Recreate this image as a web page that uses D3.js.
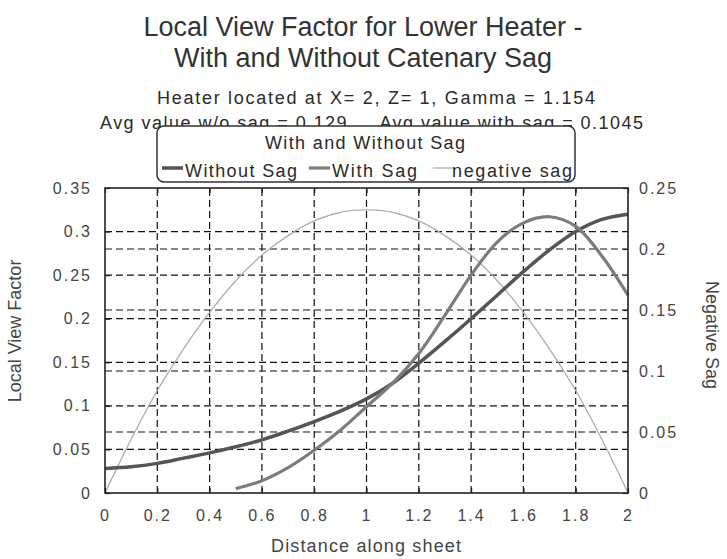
<!DOCTYPE html>
<html lang="en">
<head>
<meta charset="UTF-8">
<title>Local View Factor for Lower Heater</title>
<script src="https://d3js.org/d3.v7.min.js"></script>
<style>
    body { margin: 0; background: #fff; }
    svg { display: block; font-family: "Liberation Sans", Arial, sans-serif; }
    .title { fill: #333; font-size: 27px; text-anchor: middle; }
    .sub { fill: #2a2a2a; font-size: 18px; white-space: pre; }
    .axis text { fill: #444; font-size: 16px; letter-spacing: 2px; font-family: "Liberation Sans", Arial, sans-serif; }
    .axis line { stroke: #222; stroke-width: 1.2; }
    .axis path { display: none; }
    .grid { stroke: #111; stroke-width: 1.2; stroke-dasharray: 7, 4; }
    .axis-title { fill: #444; font-size: 18px; text-anchor: middle; }
    .legend-text { fill: #2a2a2a; font-size: 18px; }
</style>
</head>
<body>
<script>
// values
var distance = [0, 0.1, 0.2, 0.3, 0.4, 0.5, 0.6, 0.7, 0.8, 0.9, 1.0,
                1.1, 1.2, 1.3, 1.4, 1.5, 1.6, 1.7, 1.8, 1.9, 2.0];
var withoutSag = [0.028, 0.030, 0.034, 0.040, 0.046, 0.053, 0.061, 0.071, 0.082, 0.094, 0.108,
                  0.126, 0.149, 0.174, 0.200, 0.227, 0.254, 0.279, 0.300, 0.314, 0.320];
var negativeSag = [0, 0.044, 0.084, 0.118, 0.148, 0.174, 0.195, 0.211, 0.223, 0.230, 0.232,
                   0.230, 0.223, 0.211, 0.195, 0.174, 0.148, 0.118, 0.084, 0.044, 0];
var sagDistance = [0.5, 0.6, 0.7, 0.8, 0.9, 1.0, 1.1, 1.2, 1.3, 1.4, 1.5, 1.6, 1.7, 1.8, 1.9, 2.0];
var withSag = [0.005, 0.014, 0.029, 0.049, 0.072, 0.099, 0.126, 0.160, 0.204, 0.250,
               0.288, 0.310, 0.317, 0.306, 0.272, 0.227];

var xTicks = [0, 0.2, 0.4, 0.6, 0.8, 1, 1.2, 1.4, 1.6, 1.8, 2];
var leftTicks = [0, 0.05, 0.1, 0.15, 0.2, 0.25, 0.3, 0.35];
var rightTicks = [0, 0.05, 0.1, 0.15, 0.2, 0.25];

var titleLines = ["Local View Factor for Lower Heater -", "With and Without Catenary Sag"];
var subtitle = "Heater located at X= 2, Z= 1, Gamma = 1.154";
var avgLine = "Avg value w/o sag = 0.129     Avg value with sag = 0.1045";
var legendTitle = "With and Without Sag";
var seriesNames = ["Without Sag", "With Sag", "negative sag"];

var W = 727, H = 559;
var plot = { left: 105, right: 628, top: 188, bottom: 493 };

var svg = d3.select("body").append("svg")
    .attr("width", W)
    .attr("height", H);

var x = d3.scaleLinear().domain([0, 2]).range([plot.left, plot.right]);
var yL = d3.scaleLinear().domain([0, 0.35]).range([plot.bottom, plot.top]);
var yR = d3.scaleLinear().domain([0, 0.25]).range([plot.bottom, plot.top]);

// titles
svg.selectAll(".title")
    .data(titleLines)
    .enter().append("text")
    .attr("class", "title")
    .attr("x", 363)
    .attr("y", function(d, i) { return 36 + i * 31; })
    .text(function(d) { return d; });

svg.append("text")
    .attr("class", "sub")
    .attr("x", 157).attr("y", 104)
    .attr("textLength", 438)
    .text(subtitle);

svg.append("text")
    .attr("class", "sub")
    .attr("x", 100).attr("y", 129)
    .attr("textLength", 543)
    .text(avgLine);

// dashed grid
var grid = svg.append("g");
grid.selectAll(".vg")
    .data(xTicks.slice(1, -1))
    .enter().append("line")
    .attr("class", "grid")
    .attr("x1", function(d) { return x(d); })
    .attr("x2", function(d) { return x(d); })
    .attr("y1", plot.bottom).attr("y2", plot.top);
grid.selectAll(".hgl")
    .data(leftTicks.slice(1, -1))
    .enter().append("line")
    .attr("class", "grid")
    .attr("x1", plot.left).attr("x2", plot.right)
    .attr("y1", function(d) { return yL(d); })
    .attr("y2", function(d) { return yL(d); });
grid.selectAll(".hgr")
    .data(rightTicks.slice(1, -1))
    .enter().append("line")
    .attr("class", "grid")
    .attr("x1", plot.left).attr("x2", plot.right)
    .attr("y1", function(d) { return yR(d); })
    .attr("y2", function(d) { return yR(d); });

// curves
var lineL = d3.line()
    .x(function(d) { return x(d[0]); })
    .y(function(d) { return yL(d[1]); })
    .curve(d3.curveCatmullRom.alpha(0.5));
var lineR = d3.line()
    .x(function(d) { return x(d[0]); })
    .y(function(d) { return yR(d[1]); })
    .curve(d3.curveCatmullRom.alpha(0.5));

svg.append("path")
    .datum(d3.zip(distance, negativeSag))
    .attr("d", lineR)
    .attr("fill", "none")
    .attr("stroke", "#adadad")
    .attr("stroke-width", 1.3);

svg.append("path")
    .datum(d3.zip(distance, withoutSag))
    .attr("d", lineL)
    .attr("fill", "none")
    .attr("stroke", "#555")
    .attr("stroke-width", 3.5);

svg.append("path")
    .datum(d3.zip(sagDistance, withSag))
    .attr("d", lineL)
    .attr("fill", "none")
    .attr("stroke", "#7c7c7c")
    .attr("stroke-width", 3.2);

// axes with inward ticks
var fmt = function(d) { return String(+d.toFixed(2)); };

svg.append("g")
    .attr("class", "axis")
    .attr("transform", "translate(0," + plot.bottom + ")")
    .call(d3.axisBottom(x).tickValues(xTicks).tickSize(-5).tickPadding(17).tickFormat(fmt));

svg.append("g")
    .attr("class", "axis")
    .attr("transform", "translate(0," + plot.top + ")")
    .call(d3.axisTop(x).tickValues(xTicks).tickSize(-5).tickFormat(""));

svg.append("g")
    .attr("class", "axis")
    .attr("transform", "translate(" + plot.left + ",0)")
    .call(d3.axisLeft(yL).tickValues(leftTicks).tickSize(-5).tickPadding(13).tickFormat(fmt));

svg.append("g")
    .attr("class", "axis")
    .attr("transform", "translate(" + plot.right + ",0)")
    .call(d3.axisRight(yR).tickValues(rightTicks).tickSize(-5).tickPadding(11).tickFormat(fmt));

// frame
svg.append("rect")
    .attr("x", plot.left).attr("y", plot.top)
    .attr("width", plot.right - plot.left)
    .attr("height", plot.bottom - plot.top)
    .attr("fill", "none")
    .attr("stroke", "#222")
    .attr("stroke-width", 1.6);

// axis titles
svg.append("text")
    .attr("class", "axis-title")
    .attr("transform", "translate(15,331) rotate(-90)")
    .attr("dy", "0.35em")
    .text("Local View Factor");

svg.append("text")
    .attr("class", "axis-title")
    .attr("transform", "translate(712,335) rotate(90)")
    .attr("dy", "0.35em")
    .text("Negative Sag");

svg.append("text")
    .attr("class", "axis-title")
    .attr("x", 366).attr("y", 552)
    .attr("textLength", 190)
    .text("Distance along sheet");

// legend
var legend = svg.append("g");
legend.append("rect")
    .attr("x", 157).attr("y", 126)
    .attr("width", 418).attr("height", 56)
    .attr("rx", 7)
    .attr("fill", "#fff")
    .attr("stroke", "#333")
    .attr("stroke-width", 1.5);

legend.append("text")
    .attr("class", "legend-text")
    .attr("x", 265).attr("y", 149)
    .attr("textLength", 200)
    .text(legendTitle);

var legendColors = ["#555", "#7c7c7c", "#adadad"];
var legendWidths = [3.5, 3.2, 1.3];
var legendLineX = [162, 309, 433];
var legendTextX = [185, 332, 452];
var legendTextLen = [112, 85, 120];

var item = legend.selectAll(".item")
    .data(seriesNames)
    .enter().append("g");

item.append("line")
    .attr("x1", function(d, i) { return legendLineX[i]; })
    .attr("x2", function(d, i) { return legendLineX[i] + 21; })
    .attr("y1", 168).attr("y2", 168)
    .attr("stroke", function(d, i) { return legendColors[i]; })
    .attr("stroke-width", function(d, i) { return legendWidths[i]; });

item.append("text")
    .attr("class", "legend-text")
    .attr("x", function(d, i) { return legendTextX[i]; })
    .attr("y", 177)
    .attr("textLength", function(d, i) { return legendTextLen[i]; })
    .text(function(d) { return d; });
</script>
</body>
</html>
